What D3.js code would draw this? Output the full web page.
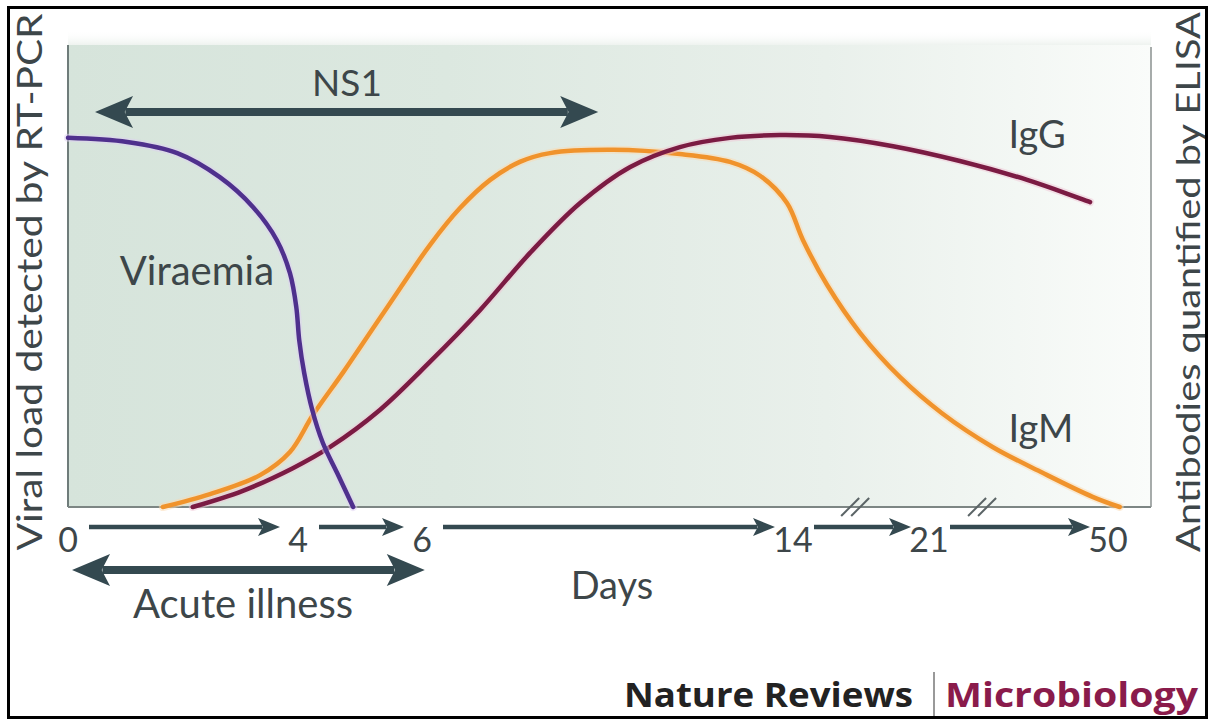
<!DOCTYPE html>
<html>
<head>
<meta charset="utf-8">
<script src="https://cdn.jsdelivr.net/npm/d3@7"></script>
<style>
    html, body { margin: 0; padding: 0; background: #fff; }
    svg { display: block; font-family: Lato, "Open Sans", "DejaVu Sans", sans-serif; }
</style>
</head>
<body>
<svg id="chart" width="1208" height="720"></svg>
<script>
// Day ticks on the (broken) time axis
const dayTicks = [0, 4, 6, 14, 21, 50];
const breakDays = [17.2, 29.6];

// Curves: [day, relative level 0-100]
const viraemia = [
    [0, 79.9], [1.03, 79], [1.9, 76.6], [2.64, 71.4], [3.22, 64.9], [3.63, 57.8],
    [3.86, 50.6], [3.97, 43.3], [4.02, 36.1], [4.1, 29], [4.23, 21], [4.4, 13.9],
    [4.63, 7.4], [4.89, 0]
];
const igm = [
    [1.65, 0], [2.47, 2.8], [3.34, 6.9], [3.86, 11.9], [4.24, 19.9], [4.73, 29.2],
    [5.21, 38.7], [5.65, 47.4], [6.17, 56.7], [6.82, 64.7], [7.47, 70.8], [8.11, 74.7],
    [8.76, 76.6], [10.12, 77.3], [11.56, 76.4], [12.64, 74.7], [13.29, 71.7],
    [13.87, 65.8], [14.51, 57.8], [15.75, 48.1], [17.45, 37.7], [19.51, 28.1],
    [23.1, 20.3], [31.3, 13], [39.4, 7.4], [47.5, 2.2], [51.9, 0]
];
const igg = [
    [2.17, 0], [3.04, 3.5], [3.91, 8.4], [4.52, 13], [5.32, 21], [6.17, 31.4],
    [7.25, 42.6], [8.33, 55], [9.41, 65.8], [10.49, 73.6], [11.56, 77.9], [12.64, 79.9],
    [13.72, 80.5], [15.9, 80.1], [19.15, 78.1], [26, 74.9], [36.9, 70.8], [47.1, 66]
];

// Period arrows: [start day, end day]
const ns1Span = [0.47, 9.8];
const acuteSpan = [0.07, 6.06];

const svg = d3.select('#chart');

const plotLeft = 68, plotRight = 1151, plotTop = 45, plotBottom = 507;

// piecewise time scale (axis is broken after day 14)
const x = d3.scaleLinear()
    .domain(dayTicks)
    .range([68, 298, 422, 793, 929, 1108]);
const y = d3.scaleLinear().domain([0, 100]).range([plotBottom, plotTop]);

const ink = '#344950';
const textCol = '#3d4649';

// background gradient
const defs = svg.append('defs');
const grad = defs.append('linearGradient').attr('id', 'bg').attr('x1', 0).attr('x2', 1).attr('y1', 0).attr('y2', 0);
grad.append('stop').attr('offset', '0%').attr('stop-color', '#d6e4db');
grad.append('stop').attr('offset', '35%').attr('stop-color', '#dce8e0');
grad.append('stop').attr('offset', '70%').attr('stop-color', '#e9f0eb');
grad.append('stop').attr('offset', '100%').attr('stop-color', '#fafcfa');

const fade = defs.append('linearGradient').attr('id', 'fade').attr('x1', 0).attr('x2', 0).attr('y1', 0).attr('y2', 1);
fade.append('stop').attr('offset', '0%').attr('stop-color', '#fff').attr('stop-opacity', 0);
fade.append('stop').attr('offset', '100%').attr('stop-color', '#eef3ef').attr('stop-opacity', 1);

svg.append('rect')
    .attr('x', plotLeft).attr('y', 30).attr('width', plotRight - plotLeft).attr('height', plotTop - 30)
    .attr('fill', 'url(#fade)');
svg.append('rect')
    .attr('x', plotLeft).attr('y', plotTop).attr('width', plotRight - plotLeft).attr('height', plotBottom - plotTop)
    .attr('fill', 'url(#bg)');

// frame lines
svg.append('line').attr('x1', plotLeft).attr('x2', plotLeft).attr('y1', plotTop).attr('y2', plotBottom)
    .attr('stroke', '#6f7c7a').attr('stroke-width', 2);
svg.append('line').attr('x1', plotLeft).attr('x2', plotRight).attr('y1', plotBottom).attr('y2', plotBottom)
    .attr('stroke', '#7d8684').attr('stroke-width', 2);
svg.append('line').attr('x1', plotRight).attr('x2', plotRight).attr('y1', 47).attr('y2', plotBottom)
    .attr('stroke', '#8a908f').attr('stroke-width', 1.5);

// curves
const line = d3.line()
    .x(d => x(d[0]))
    .y(d => y(d[1]))
    .curve(d3.curveCatmullRom.alpha(0.5));

const series = [
    { name: 'IgM', data: igm, color: '#f0932c', halo: '#fbd9b0' },
    { name: 'IgG', data: igg, color: '#7b1b43', halo: '#f0c6d6' },
    { name: 'Viraemia', data: viraemia, color: '#4f308d', halo: '#ddd0f2' }
];

series.forEach(s => {
    svg.append('path').attr('d', line(s.data))
        .attr('fill', 'none').attr('stroke', s.halo).attr('stroke-width', 8)
        .attr('stroke-opacity', 0.5).attr('stroke-linecap', 'round');
    svg.append('path').attr('d', line(s.data))
        .attr('fill', 'none').attr('stroke', s.color).attr('stroke-width', 4.5)
        .attr('stroke-linecap', 'round');
});

// curve labels
svg.append('text').attr('x', x(0.9)).attr('y', y(48)).text('Viraemia')
    .attr('font-size', 40).attr('fill', textCol);
svg.append('text').attr('x', x(33.9)).attr('y', y(77.7)).text('IgG')
    .attr('font-size', 38).attr('fill', textCol);
svg.append('text').attr('x', x(33.9)).attr('y', y(14)).text('IgM')
    .attr('font-size', 38).attr('fill', textCol);

// arrow helper: horizontal arrow from x0 to x1 at yy, optional head on each end
function arrow(x0, x1, yy, width, headLen, headHalf, both) {
    const g = svg.append('g').attr('fill', ink);
    const head = (tip, dir) => {
        const b = tip - dir * headLen;
        const n = tip - dir * headLen * 0.78;
        return `M${tip},${yy} L${b},${yy - headHalf} L${n},${yy} L${b},${yy + headHalf} Z`;
    };
    const lx0 = both ? x0 + headLen * 0.8 : x0;
    const lx1 = x1 - headLen * 0.8;
    g.append('rect').attr('x', lx0).attr('y', yy - width / 2)
        .attr('width', lx1 - lx0).attr('height', width);
    g.append('path').attr('d', head(x1, 1));
    if (both) g.append('path').attr('d', head(x0, -1));
}

// NS1 period
arrow(x(ns1Span[0]), x(ns1Span[1]), 112, 8, 38, 16, true);
svg.append('text').attr('x', x(4.79)).attr('y', 96).attr('text-anchor', 'middle')
    .text('NS1').attr('font-size', 37).attr('fill', textCol);

// day axis arrows between ticks
d3.pairs(dayTicks).forEach(([a, b]) => {
    arrow(x(a) + 21, x(b) - 18, 527, 4.5, 22, 9, false);
});

// break marks
breakDays.forEach(d => {
    const cx = x(d);
    [-5, 5].forEach(off => {
        svg.append('line')
            .attr('x1', cx + off - 9).attr('y1', 516)
            .attr('x2', cx + off + 9).attr('y2', 498)
            .attr('stroke', '#5b6466').attr('stroke-width', 2);
    });
});

// tick labels
svg.selectAll('.tick-label')
    .data(dayTicks)
    .join('text')
    .attr('class', 'tick-label')
    .attr('x', d => x(d))
    .attr('y', 552)
    .attr('text-anchor', 'middle')
    .attr('font-size', 34)
    .attr('fill', textCol)
    .text(d => d);

svg.append('text').attr('x', 612).attr('y', 599).attr('text-anchor', 'middle')
    .text('Days').attr('font-size', 38).attr('fill', textCol);

// acute illness period
arrow(x(acuteSpan[0]), x(acuteSpan[1]), 570, 8, 38, 16, true);
svg.append('text').attr('x', 243).attr('y', 618).attr('text-anchor', 'middle')
    .text('Acute illness').attr('font-size', 40).attr('fill', textCol);

// axis titles
svg.append('text')
    .attr('transform', 'translate(42,282) rotate(-90)')
    .attr('text-anchor', 'middle')
    .attr('font-size', 35).attr('fill', textCol)
    .attr('textLength', 537).attr('lengthAdjust', 'spacingAndGlyphs')
    .text('Viral load detected by RT-PCR');
svg.append('text')
    .attr('transform', 'translate(1200,282) rotate(-90)')
    .attr('text-anchor', 'middle')
    .attr('font-size', 33).attr('fill', textCol)
    .attr('textLength', 540).attr('lengthAdjust', 'spacingAndGlyphs')
    .text('Antibodies quantified by ELISA');

// journal credit
svg.append('text').attr('x', 624).attr('y', 707)
    .attr('font-family', '"Open Sans", Lato, sans-serif')
    .attr('font-size', 34).attr('font-weight', 'bold').attr('fill', '#222')
    .attr('textLength', 289).attr('lengthAdjust', 'spacingAndGlyphs')
    .text('Nature Reviews');
svg.append('line').attr('x1', 934).attr('x2', 934).attr('y1', 672).attr('y2', 718)
    .attr('stroke', '#555').attr('stroke-width', 1.2);
svg.append('text').attr('x', 945).attr('y', 707)
    .attr('font-family', '"Open Sans", Lato, sans-serif')
    .attr('font-size', 34).attr('font-weight', 'bold').attr('fill', '#8a1b4b')
    .attr('textLength', 253).attr('lengthAdjust', 'spacingAndGlyphs')
    .text('Microbiology');

// outer border
svg.append('rect').attr('x', 8.5).attr('y', 7.5).attr('width', 1198).attr('height', 710)
    .attr('fill', 'none').attr('stroke', '#000').attr('stroke-width', 3);
</script>
</body>
</html>
